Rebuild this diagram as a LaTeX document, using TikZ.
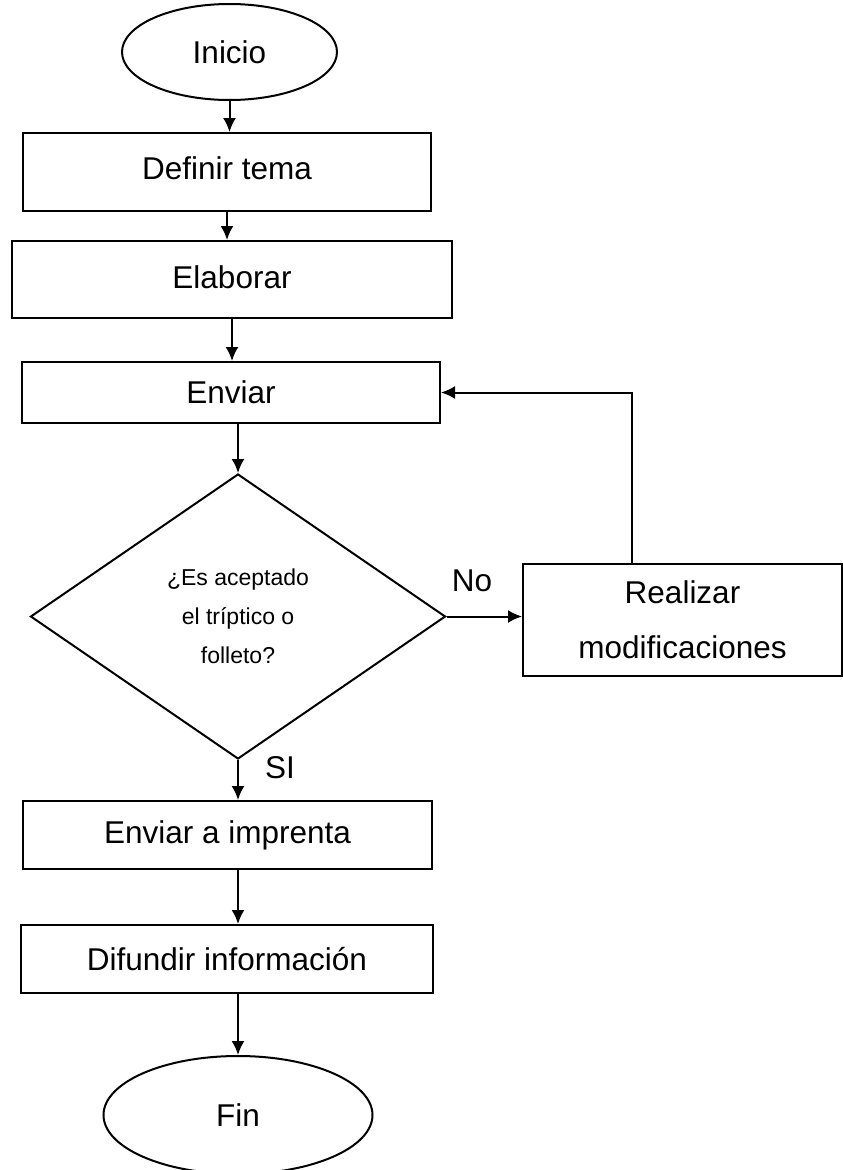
\documentclass[tikz,border=0pt]{standalone}
\usepackage{fontspec}
\setmainfont{Liberation Sans}
\usetikzlibrary{
	arrows.meta,
	shapes.geometric,
	calc
}
\tikzset{
	caja/.style={draw, rectangle, line width=2pt, inner sep=0pt, align=center,
		font=\fontsize{31.5}{55}\selectfont},
	elipse/.style={draw, ellipse, line width=2pt, inner sep=0pt,
		font=\fontsize{31.5}{37}\selectfont},
	rombo/.style={draw, diamond, line width=2pt, inner sep=0pt, align=center,
		font=\fontsize{23}{39}\selectfont},
	flecha/.style={line width=2pt, -{Latex[length=14pt,width=13pt]}},
	etiqueta/.style={anchor=base, inner sep=0pt, font=\fontsize{31.5}{37}\selectfont}
}

\begin{document}
\begin{tikzpicture}[x=1pt,y=-1pt]
                \useasboundingbox (0,0) rectangle (843,1170);
                \node[elipse, minimum width=215pt, minimum height=96pt] (ini) at (229.5,52) {Inicio};
                \node[caja, minimum width=408pt, minimum height=78pt] (def) at (227,172) {\raisebox{7pt}{Definir tema}};
                \node[caja, minimum width=440pt, minimum height=77pt] (ela) at (232,279.5) {\raisebox{5pt}{Elaborar}};
                \node[caja, minimum width=418pt, minimum height=61pt] (env) at (231,392.5) {Enviar};
                \node[rombo, minimum width=415pt, minimum height=285pt] (dec) at (238,616.5) {¿Es aceptado\\el tríptico o\\folleto?};
                \node[caja, minimum width=319pt, minimum height=112pt] (mod) at (682.5,620) {Realizar\\modificaciones};
                \node[caja, minimum width=409pt, minimum height=68pt] (imp) at (227.5,835) {Enviar a imprenta};
                \node[caja, minimum width=412pt, minimum height=68pt] (dif) at (227,959) {Difundir información};
                \node[elipse, minimum width=269pt, minimum height=118pt] (fin) at (238,1115) {Fin};
                \node[etiqueta] (no) at (472,591) {No};
                \node[etiqueta] (si) at (280,778) {SI};
                \draw[flecha] (ini.south) -- (ini.south |- def.north);
                \draw[flecha] (def.south) -- (def.south |- ela.north);
                \draw[flecha] (ela.south) -- (ela.south |- env.north);
                \draw[flecha] (dec.north |- env.south) -- (dec.north);
                \draw[flecha] (dec.east) -- (dec.east -| mod.west);
                \draw[flecha] ($(mod.north)+(-50.5,0)$) |- (env.east);
                \draw[flecha] (dec.south) -- (dec.south |- imp.north);
                \draw[flecha] (dec.south |- imp.south) -- (dec.south |- dif.north);
                \draw[flecha] (fin.north |- dif.south) -- (fin.north);
            \end{tikzpicture}
\end{document}
